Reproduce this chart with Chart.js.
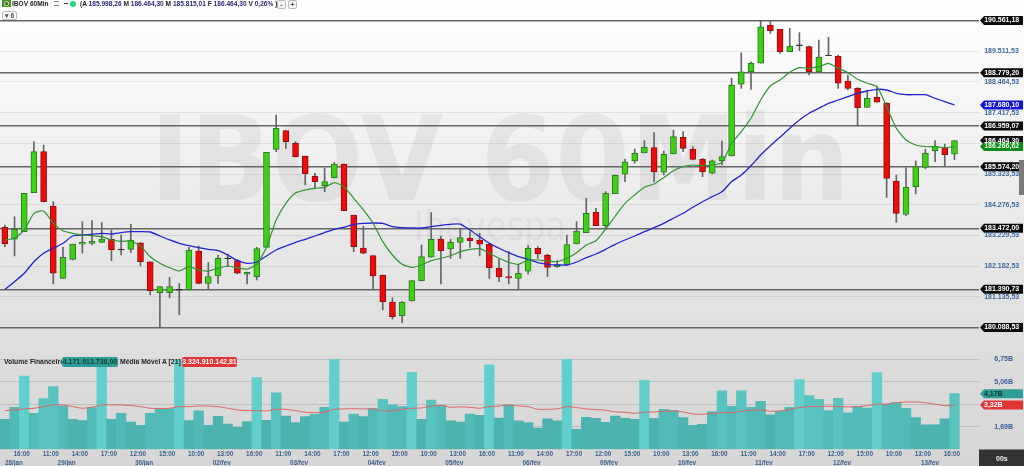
<!DOCTYPE html>
<html><head><meta charset="utf-8">
<script src="https://cdn.jsdelivr.net/npm/chart.js@4"></script>
<style>
html,body{margin:0;padding:0;background:#fff;overflow:hidden}
#wrap{position:relative;width:1024px;height:466px;overflow:hidden;font-family:"Liberation Sans",Arial,sans-serif}
canvas{position:absolute;left:0;top:0;filter:blur(0.35px)}
.t{position:absolute;white-space:nowrap;font-weight:700;font-size:6.6px;line-height:10px;color:#222}
.v{font-size:6.8px}
.pill{position:absolute;height:10px;line-height:10px;border-radius:2px;font-weight:700;font-size:7px;text-align:center;white-space:nowrap}
.btn{position:absolute;border:1px solid #bbb;border-radius:2px;background:#f4f4f4;font-size:7px;line-height:7px;text-align:center;color:#555;font-weight:700}
</style></head><body>
<div id="wrap">
<canvas id="c" width="1024" height="466"></canvas>
<div style="position:absolute;left:2px;top:0;width:9px;height:7px;background:#3a9a3a"></div>
<div style="position:absolute;left:4px;top:1px;width:5px;height:5px;background:#e8d83a;border-radius:3px"></div>
<div style="position:absolute;left:5px;top:2px;width:3px;height:3px;background:#244a9a;border-radius:2px"></div>
<div class="t" style="left:12px;top:-1px">IBOV 60Min</div>
<div style="position:absolute;left:54px;top:1px;width:5px;height:3px;border-bottom:1px solid #889;border-top:1px solid #889"></div>
<div style="position:absolute;left:64px;top:3px;width:4px;height:1px;background:#445"></div>
<div style="position:absolute;left:70px;top:1px;width:6px;height:6px;border-radius:3px;background:#22d47a"></div>
<div class="t" style="left:80px;top:-1px;color:#2a2a7a"><span style="color:#222">(A</span> 185.998,26 <span style="color:#222">M</span> 186.464,30 <span style="color:#222">M</span> 185.815,01 <span style="color:#222">F</span> 186.464,30 <span style="color:#222">V</span> 0,26% <span style="color:#222">)</span></div>
<div class="btn" style="left:277px;top:0;width:7px;height:7px">-</div>
<div class="btn" style="left:288px;top:0;width:7px;height:7px">+</div>
<div class="btn" style="left:2px;top:11px;width:13px;height:7px;background:#fff">&#9662; 6</div>
<div class="t v" style="left:4px;top:357px">Volume Financeiro</div>
<div class="pill" style="left:62px;top:357px;width:56px;background:#2f9d96;color:#143">4.171.913.736,00</div>
<div class="t v" style="left:120px;top:357px">Média Móvel A [21]</div>
<div class="pill" style="left:182px;top:357px;width:55px;background:#e23535;color:#fff">3.324.910.142,81</div>
<div style="position:absolute;left:1019px;top:160px;width:5px;height:35px;background:#7a7a7a"></div>
</div>
<script>
const sessionHours=['10:00','11:00','12:00','13:00','14:00','15:00','16:00','17:00'];
const categories=['14:00','15:00','16:00','17:00'];
for(let d=0;d<11;d++)categories.push(...sessionHours);
categories.push('10:00','11:00','12:00','13:00','14:00','15:00','16:00','','');
const hourLabelStart=2, hourLabelStep=3;
const dateLabels=['28/jan','29/jan','30/jan','02/fev','03/fev','04/fev','05/fev','06/fev','09/fev','10/fev','11/fev','12/fev','13/fev'];
const dateSlots=[0.94,6.38,14.36,22.38,30.36,38.38,46.38,54.36,62.35,70.4,78.34,86.39,95.47];
const opens=[183507,183098,183357,184687,186086,184233,181767,182415,182927,182961,182995,183098,182732,182756,182981,182333,181276,181276,181358,181368,182698,181596,181846,182436,182368,181904,181822,182824,186167,186802,186372,185939,185257,184926,185199,185666,183926,182801,182538,181880,180959,180491,180993,181685,182484,183108,182767,182995,183142,183074,182927,182119,181822,181767,182006,182791,182562,182163,182221,182937,183323,184019,183561,184653,185315,185768,186041,186222,185383,186007,186577,186178,185826,185349,185778,185939,188385,188814,189101,190407,190261,189497,189701,189667,188804,189360,189350,188497,188248,187600,187941,187736,185086,183950,184892,185553,186119,186222,185998.26];
const highs=[183585,183868,184666,186427,186314,184380,182824,182937,183698,183732,183664,183415,183244,183609,182981,182333,181481,181801,181596,182824,182869,182299,182562,182596,182415,181982,182824,186065,187337,186802,186427,185939,185349,185530,185724,185666,183926,183551,182538,181880,181105,180969,181685,182903,184005,183210,183098,183473,183357,183302,182961,182415,182675,182245,182879,182845,182586,182368,183244,183698,184496,184155,184721,185291,185826,186178,186461,186734,186109,186826,186768,186256,185860,185802,186450,188589,189462,189155,190554,190561.18,190261,190295,190145,189691,189896,189988,189384,188702,188269,188190,188327,187757,185291,185540,185778,186167,186461,186348,186464.30];
const lows=[182845,182528,183357,184687,184370,181573,181767,182391,182620,182903,182995,182368,182562,182640,182187,181198,180088.53,181095,180525,181368,181573,181392,181596,182163,181914,181573,181709,182824,186086,186201,185905,184950,184837,184721,185188,184063,182675,182596,181392,180686,180369,180253,180993,181675,182484,181573,182449,182449,182824,182528,181767,181651,181573,181392,181904,182449,181822,182142,182211,182937,183323,183561,183493,184653,185062,185690,186041,185062,185291,186007,186086,185802,185233,185325,185632,185939,188248,188214,189101,190124,189442,189497,189531,188702,188804,189360,188248,188190,186962,187600,187771,184530,183677,183903,184643,185495,185744,185574,185815.01];
const closes=[182937,183439,184666,186086,184380,181938,182483,182937,182995,183029,183108,182732,182756,183074,182333,181344,181481,181481,181392,182732,181596,181822,182449,182460,181938,181972,182777,186065,186884,186427,185915,185325,185062,185062,185666,184073,182845,182620,181846,180959,180457,180959,181685,182504,183098,182709,182995,183152,183050,182927,182129,181812,181777,181938,182791,182596,182142,182231,182913,183381,183984,183561,184666,185280,185744,186031,186236,185393,185997,186597,186201,185826,185393,185778,185915,188361,188814,189101,190349,190213,189497,189691,189735,188804,189305,189384,188419,188248,187586,187907,187771,185178,183984,184871,185574,186031,186280,185983,186464.30];
const emaGreen=[183074,183132,183415,183984,184063,183643,183391,183302,183244,183220,183186,183074,183029,183039,182869,182504,182279,182129,182016,182163,182050,182016,182108,182187,182129,182084,182245,182824,183756,184325,184677,184779,184837,184871,185028,184892,184496,184097,183643,183016,182562,182245,182142,182221,182368,182449,182538,182675,182756,182777,182620,182449,182313,182245,182391,182391,182357,182333,182449,182640,182903,183050,183439,183892,184325,184609,184871,184984,185199,185437,185574,185632,185608,185632,185710,186372,186768,187225,187849,188327,188531,188794,188951,188930,188985,189101,188930,188780,188555,188419,188303,187620,186884,186485,186314,186256,186256,186222,186266.62];
const maBlue=[181392,181651,181938,182333,182620,182791,182961,183210,183244,183268,183302,183278,183323,183357,183357,183346,183210,183074,182961,182879,182811,182756,182709,182562,182368,182279,182323,182528,182732,182869,182995,183098,183210,183323,183439,183507,183609,183643,183653,183643,183527,183493,183483,183483,183527,183575,183609,183619,183415,183186,182961,182791,182640,182504,182415,182299,182245,182221,182221,182323,182470,182596,182756,182927,183074,183210,183357,183493,183643,183814,183984,184189,184380,184551,184721,185062,185291,185608,185973,186290,186577,186884,187167,187395,187566,187736,187849,187962,188078,188156,188214,188190,188078,188030,188030,188030,187907,187791,187680.10];
const volumes=[2.25,3.15,5.50,2.70,3.80,4.70,3.25,2.25,2.15,3.13,6.75,2.25,2.70,2.05,1.80,2.70,3.05,3.05,6.70,2.15,2.88,1.80,2.48,1.90,1.65,2.08,5.38,2.18,4.23,2.50,2.00,2.45,2.63,3.15,6.75,2.05,2.65,2.45,3.05,3.75,3.33,3.20,5.78,2.25,3.70,3.30,2.13,2.05,2.65,2.55,6.33,2.35,3.33,2.13,2.00,1.60,2.28,2.13,6.75,1.50,2.40,2.33,2.03,2.50,2.33,2.25,5.18,2.33,3.00,2.90,2.38,1.80,1.88,2.83,4.38,3.23,4.38,3.15,3.60,2.58,2.85,3.15,5.23,4.03,3.75,2.90,3.83,2.73,3.23,3.10,5.75,3.38,3.50,3.08,2.38,1.83,1.83,2.28,4.17];
const volumeMA=[2.90,2.95,3.03,3.08,3.20,3.33,3.33,3.20,3.08,3.15,3.33,3.33,3.33,3.28,3.20,3.08,3.05,3.08,3.20,3.20,3.25,3.25,3.20,3.08,2.95,2.90,2.90,2.88,3.00,3.00,2.90,2.78,2.75,2.78,3.00,3.03,3.05,3.03,3.03,2.88,2.88,3.00,3.08,3.10,3.25,3.30,3.15,3.18,3.15,3.08,3.20,3.25,3.33,3.25,3.20,3.00,3.00,3.03,3.20,3.13,3.03,2.98,2.93,2.80,2.78,2.70,2.78,2.80,2.85,2.88,2.80,2.65,2.63,2.70,2.75,2.75,2.85,2.93,2.95,2.85,2.88,3.00,3.13,3.20,3.20,3.23,3.20,3.18,3.20,3.28,3.38,3.40,3.50,3.55,3.55,3.50,3.38,3.28,3.32];
const levelLines=[190561.18,188779.20,186959.07,185574.20,183472.00,181390.73,180088.53];
const priceGrid=[189511.53,188464.53,187417.53,186370.53,185323.53,184276.53,183229.53,182182.53,181135.53];
const unlabeledGrid=[186370.53];
const priceTags=[{v:187680.10,c:'#1212d8',t:'#fff'},{v:186464.30,c:'#111',t:'#fff'},{v:186266.62,c:'#108a18',t:'#e8ffe8'}];
const volumeTicks=[1.6875,3.375,5.0625,6.75];
const volumeTickLabels=['1,69B','','5,06B','6,75B'];
const volumeTags=[{v:4.17,label:'4,17B',c:'#2f9d96',t:'#0e3a36'},{v:3.32,label:'3,32B',c:'#e23535',t:'#fff'}];
const watermark='IBOV 60Min', watermark2='Ibovespa', clockText='00s';

const fmt=v=>{const [a,b]=v.toFixed(2).split('.');return a.replace(/\B(?=(\d{3})+$)/g,'.')+','+b;};
const GREEN='#3fd016',RED='#ee0b0b';
const candleFill=closes.map((c,i)=>Math.abs(c-opens[i])<45?'#222':(c>=opens[i]?GREEN:RED));
const candleEdge=closes.map((c,i)=>Math.abs(c-opens[i])<45?'#222':(c>=opens[i]?'#2d7a24':'#8a1212'));
const volFill=volumes.map(v=>v>5?'#63cfcc':v>3.6?'#58c3bf':v>2.6?'#52bbb7':'#4cb3af');
const isLevel=v=>levelLines.includes(v);
const isTag=v=>priceTags.some(t=>t.v===v);
const noPad=s=>{s.paddingTop=0;s.paddingBottom=0;s.paddingLeft=0;s.paddingRight=0;};

function tag(ctx,y,c){ctx.fillStyle=c;ctx.beginPath();ctx.moveTo(980,y);ctx.lineTo(984,y-4.5);ctx.lineTo(1023,y-4.5);ctx.lineTo(1023,y+4.5);ctx.lineTo(984,y+4.5);ctx.closePath();ctx.fill();}

const deco={id:'deco',
beforeDraw(chart){
  const ctx=chart.ctx,y=chart.scales.y,yv=chart.scales.yVol;
  const g=ctx.createLinearGradient(0,0,0,466);
  g.addColorStop(0,'#ffffff');g.addColorStop(0.2,'#f6f6f6');g.addColorStop(0.6,'#e4e4e4');g.addColorStop(0.78,'#dcdcdc');g.addColorStop(1,'#d6d6d6');
  ctx.save();ctx.fillStyle=g;ctx.fillRect(0,0,1024,466);
  ctx.fillStyle='rgba(120,120,120,0.11)';ctx.textAlign='left';ctx.textBaseline='alphabetic';
  ctx.font='bold 118px "DejaVu Sans"';
  const w=ctx.measureText(watermark).width;
  ctx.save();ctx.translate(150,200);ctx.scale(700/w,1);ctx.fillText(watermark,0,0);ctx.restore();
  ctx.fillStyle='rgba(120,120,120,0.09)';ctx.font='40px "DejaVu Sans"';
  const w2=ctx.measureText(watermark2).width;
  ctx.save();ctx.translate(414,240);ctx.scale(152/w2,1);ctx.fillText(watermark2,0,0);ctx.restore();
  levelLines.forEach(v=>tag(ctx,y.getPixelForValue(v),'#0c0c0c'));
  priceTags.forEach(t=>tag(ctx,y.getPixelForValue(t.v),t.c));
  volumeTags.forEach(t=>tag(ctx,yv.getPixelForValue(t.v),t.c));
  ctx.fillStyle='#333';ctx.fillRect(979,449.5,45,17);
  ctx.restore();
},
afterDraw(chart){
  const ctx=chart.ctx,yv=chart.scales.yVol;
  ctx.save();ctx.font='bold 7px "Liberation Sans"';ctx.textBaseline='middle';ctx.textAlign='left';
  volumeTags.forEach(t=>{ctx.fillStyle=t.t;ctx.fillText(t.label,984,yv.getPixelForValue(t.v));});
  ctx.fillStyle='#eee';ctx.fillText(clockText,996,459);
  ctx.restore();
}};

new Chart(document.getElementById('c'),{
 data:{labels:categories,datasets:[
  {type:'line',label:'EMA',data:emaGreen,yAxisID:'y',borderColor:'#2f9432',borderWidth:1.2,pointRadius:0,tension:0.2,order:0},
  {type:'line',label:'MA',data:maBlue,yAxisID:'y',borderColor:'#2424cc',borderWidth:1.3,pointRadius:0,tension:0.2,order:0},
  {type:'line',label:'Média Móvel A',data:volumeMA,yAxisID:'yVol',borderColor:'#e06464',borderWidth:1,pointRadius:0,tension:0.2,order:0},
  {type:'bar',label:'Corpo',data:opens.map((o,i)=>[o,closes[i]]),yAxisID:'y',backgroundColor:candleFill,borderColor:candleEdge,borderWidth:1,borderSkipped:false,barThickness:6,grouped:false,order:1},
  {type:'bar',label:'Pavio',data:lows.map((l,i)=>[l,highs[i]]),yAxisID:'y',backgroundColor:'#666',borderWidth:0,barThickness:1,grouped:false,order:2},
  {type:'bar',label:'Volume Financeiro',data:volumes,yAxisID:'yVol',backgroundColor:volFill,borderWidth:0,barPercentage:1,categoryPercentage:1,grouped:false,order:3}
 ]},
 plugins:[deco],
 options:{responsive:false,animation:false,devicePixelRatio:1,
  layout:{autoPadding:false,padding:0},
  plugins:{legend:{display:false},tooltip:{enabled:false}},
  scales:{
   x:{type:'category',position:'bottom',offset:true,weight:0,grid:{display:false,drawTicks:false},border:{display:false},
      afterFit:s=>{s.height=8.7;noPad(s);},
      ticks:{autoSkip:false,maxRotation:0,minRotation:0,padding:1.5,labelOffset:-2.5,color:'#41608f',font:{family:'Liberation Sans',size:6.4,weight:'bold'},
        callback(v,i){return (i>=hourLabelStart&&(i-hourLabelStart)%hourLabelStep===0)?this.getLabelForValue(v):'';}}},
   xDate:{type:'linear',position:'bottom',min:-0.5,max:100.5,weight:1,grid:{display:false,drawTicks:false},border:{display:false},
      afterFit:s=>{s.height=8;noPad(s);},
      afterBuildTicks:s=>{s.ticks=dateSlots.map(v=>({value:v}));},
      ticks:{autoSkip:false,maxRotation:0,minRotation:0,padding:1.5,color:'#41608f',font:{family:'Liberation Sans',size:6.4,weight:'bold'},
        callback:v=>dateLabels[dateSlots.indexOf(v)]}},
   y:{type:'linear',position:'right',weight:0,min:175934,max:191260,border:{display:false},
      afterFit:s=>{s.width=45.3;noPad(s);},
      afterBuildTicks:s=>{s.ticks=[...priceGrid,...levelLines,...priceTags.map(t=>t.v)].map(v=>({value:v}));},
      grid:{drawTicks:false,z:-1,
        color:c=>isLevel(c.tick.value)?'#666':isTag(c.tick.value)?'rgba(0,0,0,0)':'rgba(0,0,0,0.075)',
        lineWidth:c=>isLevel(c.tick.value)?1.4:1},
      ticks:{autoSkip:false,padding:5.5,
        color:c=>(isLevel(c.tick.value)||isTag(c.tick.value))?(priceTags.find(t=>t.v===c.tick.value)||{t:'#fff'}).t:'#3d6a9c',
        font:{family:'Liberation Sans',size:7,weight:'bold'},
        callback:v=>unlabeledGrid.includes(v)?'':fmt(v)}},
   yVol:{type:'linear',position:'right',weight:1,min:0,max:33.7,border:{display:false},
      afterFit:s=>{s.width=0;noPad(s);},
      afterBuildTicks:s=>{s.ticks=volumeTicks.map(v=>({value:v}));},
      grid:{drawTicks:false,color:'rgba(0,0,0,0.12)',lineWidth:1},
      ticks:{autoSkip:false,mirror:true,padding:-11,color:'#3d5f94',font:{family:'Liberation Sans',size:7,weight:'bold'},
        callback:v=>volumeTickLabels[volumeTicks.indexOf(v)]}}
  }}
});
</script>
</body></html>
